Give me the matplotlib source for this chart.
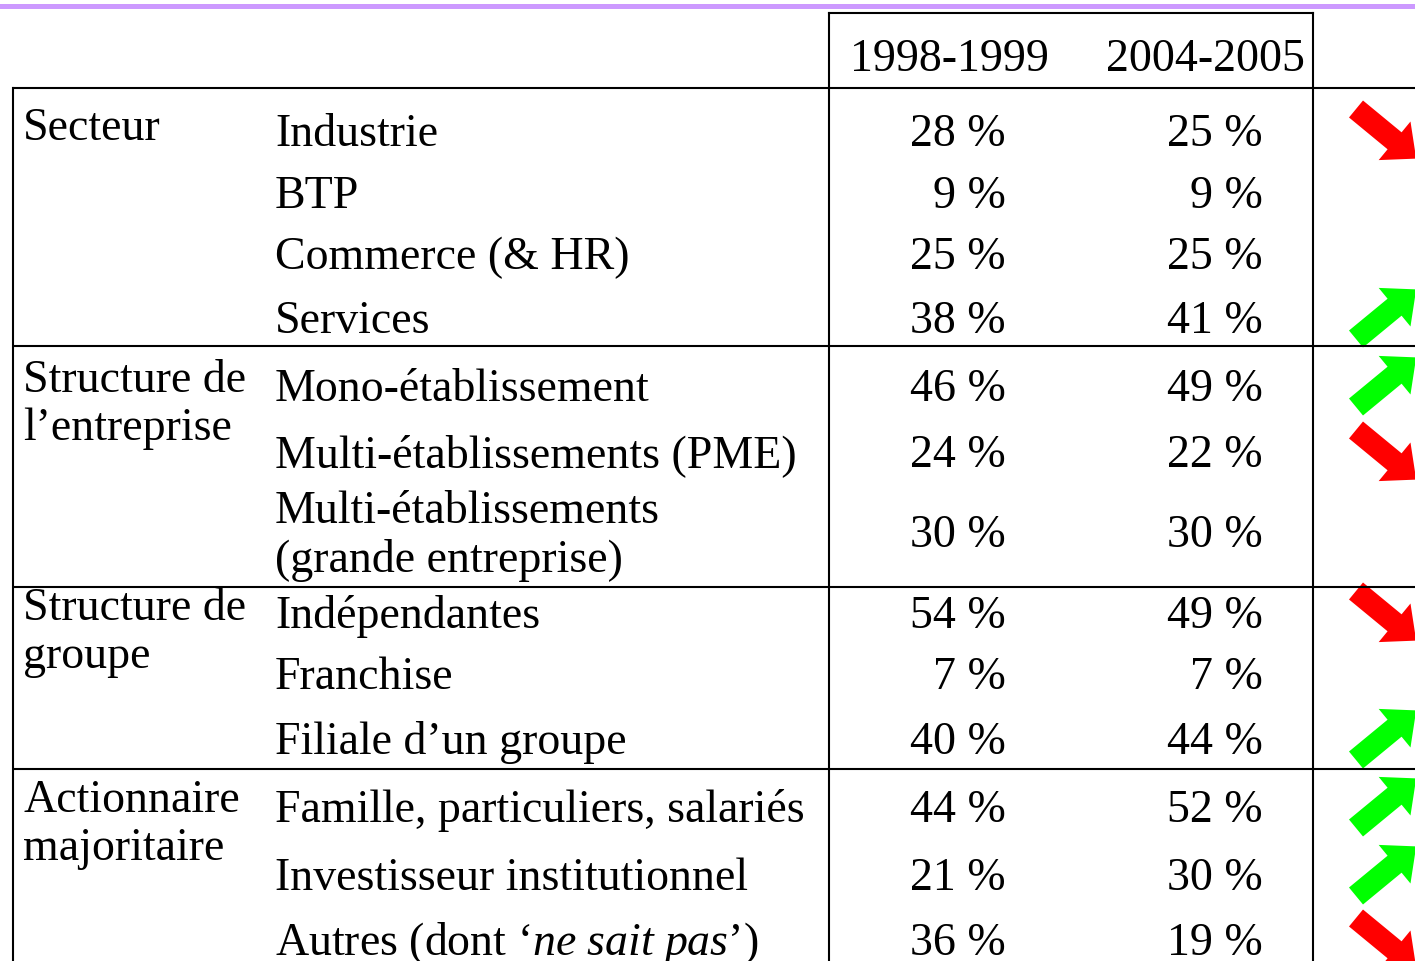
import matplotlib.pyplot as plt
from matplotlib.patches import Polygon, Rectangle
import numpy as np

plt.rcParams['font.family'] = ['Liberation Serif', 'DejaVu Serif']
plt.rcParams['mathtext.fontset'] = 'custom'
plt.rcParams['mathtext.rm'] = 'Liberation Serif'
plt.rcParams['mathtext.it'] = 'Liberation Serif:italic'

# table content
years = ['1998-1999', '2004-2005']
groups = [['Secteur'],
          ['Structure de', 'l’entreprise'],
          ['Structure de', 'groupe'],
          ['Actionnaire', 'majoritaire']]
items = [['Industrie'], ['BTP'], ['Commerce (& HR)'], ['Services'],
         ['Mono-établissement'], ['Multi-établissements (PME)'],
         ['Multi-établissements', '(grande entreprise)'],
         ['Indépendantes'], ['Franchise'], ['Filiale d’un groupe'],
         ['Famille, particuliers, salariés'], ['Investisseur institutionnel'],
         [r'Autres (dont ‘$\mathit{ne\ sait\ pas}$’)']]
share_1998 = [28, 9, 25, 38, 46, 24, 30, 54, 7, 40, 44, 21, 36]
share_2004 = [25, 9, 25, 41, 49, 22, 30, 49, 7, 44, 52, 30, 19]

# layout (pixel coords, y down)
W, H = 1415, 961
row_y = [131, 193, 254, 318, 386, 452, 532, 613, 674, 739, 807, 875, 940]
group_y = [125, 377, 605, 797]
seps = [88, 346, 587, 769]
fs = 33
line_gap = 48

fig = plt.figure(figsize=(W / 100, H / 100), dpi=100)
ax = fig.add_axes([0, 0, 1, 1])
ax.set_xlim(0, W)
ax.set_ylim(H, 0)
ax.axis('off')

# purple band on top
ax.add_patch(Rectangle((0, 4), W, 5, color='#cc99ff', lw=0))

lw = 1.5
for y in seps:
    ax.plot([12, W], [y, y], color='black', lw=lw, solid_capstyle='butt')
ax.plot([829, 1313], [13, 13], color='black', lw=lw)
ax.plot([13, 13], [88, H], color='black', lw=lw)
ax.plot([829, 829], [13, H], color='black', lw=lw)
ax.plot([1313, 1313], [13, H], color='black', lw=lw)

def put(x, yc, s, ha='left'):
    ax.text(x, yc + 15, s, fontsize=fs, ha=ha, va='baseline')

put(949, 56, years[0], ha='center')
put(1205, 56, years[1], ha='center')

for lines, y in zip(groups, group_y):
    for k, s in enumerate(lines):
        put(23, y + k * line_gap, s)

def arrow(yc, up):
    # block arrow, clipped by right edge
    L, sl, sw, hw = 78, 50, 11, 25
    pts = np.array([(0, -sw), (sl, -sw), (sl, -hw), (L, 0),
                    (sl, hw), (sl, sw), (0, sw)], dtype=float)
    a = np.deg2rad(-39.5 if up else 39.5)
    d = np.array([np.cos(a), np.sin(a)])
    p = np.array([-np.sin(a), np.cos(a)])
    tail = np.array([1356, yc + (21 if up else -22)])
    xy = tail + pts[:, :1] * d + pts[:, 1:] * p
    ax.add_patch(Polygon(xy, closed=True, lw=0,
                         color='#00ff00' if up else '#ff0000'))

for lines, y, a, b in zip(items, row_y, share_1998, share_2004):
    if len(lines) == 1:
        put(275, y, lines[0])
    else:
        put(275, y - 24, lines[0])
        put(275, y + 25, lines[1])
    put(1006, y, f'{a} %', ha='right')
    put(1263, y, f'{b} %', ha='right')
    if b > a:
        arrow(y, True)
    elif b < a:
        arrow(y, False)

fig.savefig('out.png', dpi=100)
